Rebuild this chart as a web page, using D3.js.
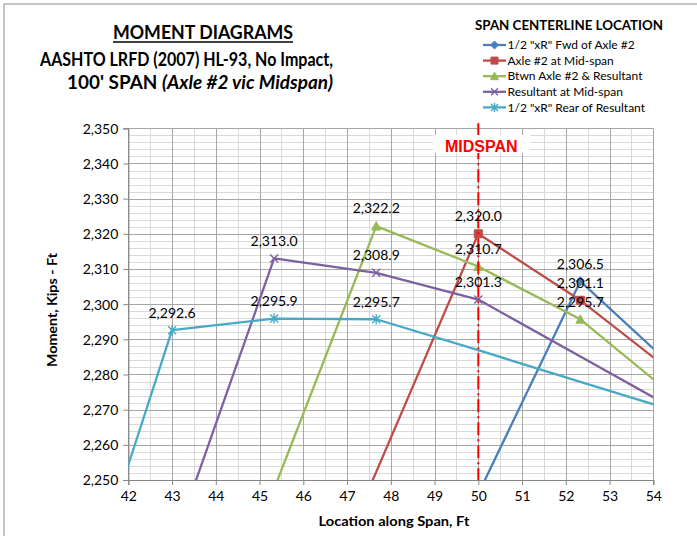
<!DOCTYPE html>
<html><head><meta charset="utf-8">
<script src="https://cdn.jsdelivr.net/npm/d3@7"></script>
<style>
html,body{margin:0;padding:0;background:#fff;}
svg{display:block;}
text{font-family:Lato, "Open Sans", sans-serif;}
</style></head>
<body><div id="chart"></div>
<script>
// ---------- data ----------
const titleLines = ["MOMENT DIAGRAMS", "AASHTO LRFD (2007) HL-93, No Impact,", "100' SPAN ", "(Axle #2 vic Midspan)"];
const legendTitle = "SPAN CENTERLINE LOCATION";
const seriesNames = ["1/2 \"xR\" Fwd of Axle #2", "Axle #2 at Mid-span", "Btwn Axle #2 & Resultant", "Resultant at Mid-span", "1/2 \"xR\" Rear of Resultant"];
const seriesColors = ["#4a7ebb", "#be4b48", "#98b954", "#7d60a0", "#46aac5"];
const seriesMarkers = ["diamond", "square", "triangle", "x", "star"];

const fwdAxle2X = [50, 52.333, 54.667];
const fwdAxle2Y = [2246.1, 2306.5, 2279.7];
const fwdAxle2Labeled = [1];

const axle2MidX = [45.333, 47.667, 50, 52.333, 54.667];
const axle2MidY = [2184.6, 2252.3, 2320.0, 2301.1, 2278.4];
const axle2MidLabeled = [2, 3];

const btwnX = [45.333, 47.667, 50, 52.333, 54.667];
const btwnY = [2247.5, 2322.2, 2310.7, 2295.7, 2271.8];
const btwnLabeled = [1, 2, 3];

const resultantX = [43, 45.333, 47.667, 50, 52.333, 54.667];
const resultantY = [2230.6, 2313.0, 2308.9, 2301.3, 2285.1, 2268.9];
const resultantLabeled = [1, 2, 3];

const rearX = [40.667, 43, 45.333, 47.667, 50, 52.333, 54.667];
const rearY = [2203.2, 2292.6, 2295.9, 2295.7, 2286.9, 2277.9, 2269.0];
const rearLabeled = [1, 2, 3];

const xTickValues = [42, 43, 44, 45, 46, 47, 48, 49, 50, 51, 52, 53, 54];
const yTickValues = [2250, 2260, 2270, 2280, 2290, 2300, 2310, 2320, 2330, 2340, 2350];
const midspanX = 50;
const midspanLabel = "MIDSPAN";
const xTitle = "Location along Span, Ft";
const yTitle = "Moment, Kips - Ft";

// ---------- layout ----------
const W = 697, H = 536;
const svg = d3.select("#chart").append("svg").attr("width", W).attr("height", H);

// outer chart border
svg.append("rect").attr("x", 4).attr("y", 4).attr("width", W + 10).attr("height", H + 10)
  .attr("fill", "#fff").attr("stroke", "#b3b3b3").attr("stroke-width", 1.5);

const x = d3.scaleLinear().domain([42, 54]).range([128.3, 653.3]);
const y = d3.scaleLinear().domain([2250, 2350]).range([480, 128.3]);

const g = svg.append("g");

// minor gridlines
const xMinor = d3.range(42.5, 54, 1);
const yMinor = d3.range(2252, 2350, 2).filter(v => v % 10 !== 0);
g.selectAll(".yminor").data(yMinor).join("line")
  .attr("x1", x(42)).attr("x2", x(54)).attr("y1", d => Math.round(y(d)) + 0.5).attr("y2", d => Math.round(y(d)) + 0.5)
  .attr("stroke", "#d9d9d9").attr("stroke-width", 1);
g.selectAll(".xminor").data(xMinor).join("line")
  .attr("y1", y(2250)).attr("y2", y(2350)).attr("x1", d => Math.round(x(d)) + 0.5).attr("x2", d => Math.round(x(d)) + 0.5)
  .attr("stroke", "#d9d9d9").attr("stroke-width", 1);
// major gridlines
g.selectAll(".ymajor").data(yTickValues).join("line")
  .attr("x1", x(42)).attr("x2", x(54)).attr("y1", d => Math.round(y(d)) + 0.5).attr("y2", d => Math.round(y(d)) + 0.5)
  .attr("stroke", "#a6a6a6").attr("stroke-width", 1);
g.selectAll(".xmajor").data(xTickValues).join("line")
  .attr("y1", y(2250)).attr("y2", y(2350)).attr("x1", d => Math.round(x(d)) + 0.5).attr("x2", d => Math.round(x(d)) + 0.5)
  .attr("stroke", "#a6a6a6").attr("stroke-width", 1);

// axes
const xAxis = d3.axisBottom(x).tickValues(xTickValues).tickFormat(d3.format("d")).tickSize(5).tickPadding(6);
const yAxis = d3.axisLeft(y).tickValues(yTickValues).tickFormat(d3.format(",")).tickSize(5).tickPadding(5);
const gx = svg.append("g").attr("transform", `translate(0,${y(2250)})`).call(xAxis);
const gy = svg.append("g").attr("transform", `translate(${x(42)},0)`).call(yAxis);
[gx, gy].forEach(a => {
  a.select(".domain").attr("stroke", "#868686").attr("stroke-width", 1.2);
  a.selectAll(".tick line").attr("stroke", "#868686");
  a.selectAll("text").attr("fill", "#000").style("font-size", "14px").style("font-family", "Lato, sans-serif");
});
gy.selectAll(".tick text").attr("dy", "0.35em");

// clip
svg.append("clipPath").attr("id", "plotclip").append("rect")
  .attr("x", x(42)).attr("y", y(2350) - 1).attr("width", x(54) - x(42)).attr("height", y(2250) - y(2350) + 1);

const seriesX = [fwdAxle2X, axle2MidX, btwnX, resultantX, rearX];
const seriesY = [fwdAxle2Y, axle2MidY, btwnY, resultantY, rearY];
const seriesLabeled = [fwdAxle2Labeled, axle2MidLabeled, btwnLabeled, resultantLabeled, rearLabeled];

const series = seriesNames.map((name, i) => ({
  name, color: seriesColors[i], marker: seriesMarkers[i],
  pts: seriesX[i].map((xv, j) => ({x: xv, y: seriesY[i][j], labeled: seriesLabeled[i].includes(j)}))
}));

function markerPath(type, s) {
  const p = d3.path();
  const h = s / 2;
  if (type === "diamond") { p.moveTo(0, -h - 0.5); p.lineTo(h + 0.5, 0); p.lineTo(0, h + 0.5); p.lineTo(-h - 0.5, 0); p.closePath(); }
  else if (type === "square") { p.rect(-h, -h, s, s); }
  else if (type === "triangle") { p.moveTo(0, -h - 0.5); p.lineTo(h + 0.5, h); p.lineTo(-h - 0.5, h); p.closePath(); }
  else if (type === "x") { p.moveTo(-h, -h); p.lineTo(h, h); p.moveTo(h, -h); p.lineTo(-h, h); }
  else if (type === "star") { p.moveTo(-h, -h); p.lineTo(h, h); p.moveTo(h, -h); p.lineTo(-h, h); p.moveTo(0, -h - 1); p.lineTo(0, h + 1); }
  return p.toString();
}
function drawMarker(sel, type, color, s) {
  const filled = (type === "diamond" || type === "square" || type === "triangle");
  sel.append("path").attr("d", markerPath(type, s))
    .attr("fill", filled ? color : "none")
    .attr("stroke", color).attr("stroke-width", filled ? 1 : 1.4);
}

const line = d3.line().x(d => x(d.x)).y(d => y(d.y));
const plot = svg.append("g").attr("clip-path", "url(#plotclip)");
series.forEach(s => {
  plot.append("path").datum(s.pts).attr("d", line)
    .attr("fill", "none").attr("stroke", s.color).attr("stroke-width", 2.3).attr("stroke-linejoin", "round");
});
series.forEach(s => {
  s.pts.filter(p => p.labeled).forEach(p => {
    const mg = plot.append("g").attr("transform", `translate(${x(p.x)},${y(p.y)})`);
    drawMarker(mg, s.marker, s.color, 8);
  });
});

// midspan line
svg.append("line").attr("x1", x(midspanX)).attr("x2", x(midspanX)).attr("y1", y(2350) - 5).attr("y2", y(2250))
  .attr("stroke", "#ff0000").attr("stroke-width", 2).attr("stroke-dasharray", "13,4,2,4");

// midspan label box
const msx = x(midspanX) + 3;
svg.append("rect").attr("x", msx - 48).attr("y", 135).attr("width", 97).attr("height", 18).attr("fill", "#fff");
svg.append("text").attr("x", msx).attr("y", 151.5).attr("text-anchor", "middle")
  .style("font-family", "'Liberation Sans', Arial, sans-serif").style("font-weight", "bold").style("font-size", "16px")
  .attr("fill", "#ff0000").text(midspanLabel);

// data labels
const fmt = d3.format(",.1f");
series.forEach(s => {
  s.pts.filter(p => p.labeled).forEach(p => {
    svg.append("text").attr("x", x(p.x)).attr("y", y(p.y) - 17.5).attr("dy", "0.35em")
      .attr("text-anchor", "middle").style("font-size", "14px").attr("fill", "#000").text(fmt(p.y));
  });
});

// titles
const t = svg.append("g").style("font-weight", "bold").attr("fill", "#000");
t.append("text").attr("x", 113).attr("y", 39).style("font-size", "18px").attr("textLength", 180).attr("lengthAdjust", "spacingAndGlyphs")
  .text(titleLines[0]);
t.append("line").attr("x1", 113).attr("x2", 293).attr("y1", 42).attr("y2", 42).attr("stroke", "#000").attr("stroke-width", 1.5);
t.append("text").attr("x", 40).attr("y", 66).style("font-size", "18px").attr("textLength", 293).attr("lengthAdjust", "spacingAndGlyphs").text(titleLines[1]);
const t3 = t.append("text").attr("x", 67).attr("y", 89).style("font-size", "18px").attr("textLength", 266).attr("lengthAdjust", "spacingAndGlyphs");
t3.append("tspan").text(titleLines[2]);
t3.append("tspan").style("font-style", "italic").text(titleLines[3]);

// axis titles
svg.append("text").attr("x", 394).attr("y", 526).attr("text-anchor", "middle").style("font-weight", "bold").style("font-size", "14px")
  .attr("textLength", 151).attr("lengthAdjust", "spacingAndGlyphs").text(xTitle);
svg.append("text").attr("transform", `translate(57,310) rotate(-90)`).attr("text-anchor", "middle").style("font-weight", "bold").style("font-size", "14px")
  .attr("textLength", 114).attr("lengthAdjust", "spacingAndGlyphs").text(yTitle);

// legend
svg.append("text").attr("x", 475).attr("y", 30).style("font-weight", "bold").style("font-size", "14px")
  .attr("textLength", 188).attr("lengthAdjust", "spacingAndGlyphs").text(legendTitle);
const lg = svg.append("g");
series.forEach((s, i) => {
  const cy = 45 + i * 15.6;
  lg.append("line").attr("x1", 483).attr("x2", 506).attr("y1", cy).attr("y2", cy).attr("stroke", s.color).attr("stroke-width", 2.3);
  const mg = lg.append("g").attr("transform", `translate(494.5,${cy})`);
  drawMarker(mg, s.marker, s.color, 7);
  lg.append("text").attr("x", 507.5).attr("y", cy).attr("dy", "0.35em").style("font-size", "12px").attr("fill", "#000").text(s.name);
});
</script>
</body></html>
